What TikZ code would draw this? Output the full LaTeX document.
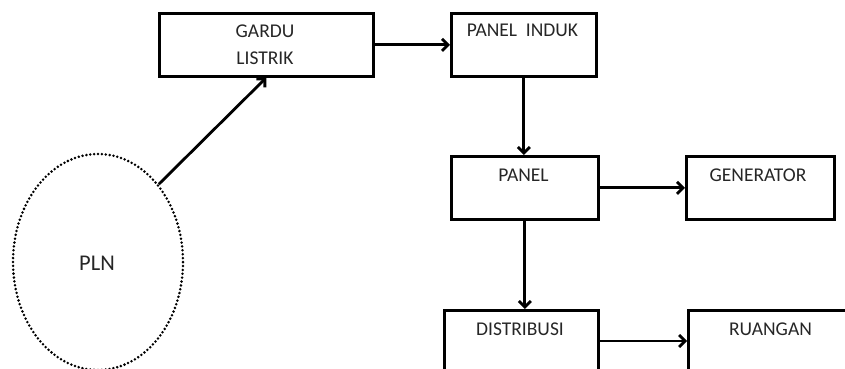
\documentclass[tikz,border=0pt]{standalone}
\usepackage{fontspec}
\setmainfont{Carlito}
\usetikzlibrary{arrows.meta,shapes.geometric}
\begin{document}
\begin{tikzpicture}[x=1pt,y=-1pt,
  box/.style={draw, line width=2.6pt, rectangle, inner sep=0pt, anchor=north west},
  lbl/.style={font=\fontsize{19.5}{27}\selectfont, text=black!85, inner sep=0pt, align=center},
  conn/.style={line width=2.8pt, -{Straight Barb[length=6pt,width=12pt,line width=2.8pt]}}]
\useasboundingbox (0,0) rectangle (845,369);
\clip (0,0) rectangle (845,369);
% boxes
\node[box, minimum width=214pt, minimum height=63pt] (gardu) at (158,12) {};
\node[box, minimum width=145pt, minimum height=63pt] (induk) at (450,12) {};
\node[box, minimum width=147pt, minimum height=63pt] (panel) at (450,155) {};
\node[box, minimum width=148pt, minimum height=63pt] (gen) at (685,155) {};
\node[box, minimum width=154pt, minimum height=100pt] (dist) at (443,309) {};
\node[box, minimum width=200pt, minimum height=100pt] (ruang) at (687,309) {};
% ellipse
\node[ellipse, draw, line width=2.8pt, line cap=round, dash pattern=on 0pt off 3.9pt,
      minimum width=170pt, minimum height=216pt, inner sep=0pt] (pln) at (98,262) {};
% labels
\node[lbl] (tgardu) at (265,44.5) {GARDU\\LISTRIK};
\node[lbl, anchor=base] (tinduk) at (522.5,37) {PANEL\ \ INDUK};
\node[lbl, anchor=base] (tpanel) at (523.5,181) {PANEL};
\node[lbl, anchor=base] (tgen) at (758,181) {GENERATOR};
\node[lbl, anchor=base] (tdist) at (520,335) {DISTRIBUSI};
\node[lbl, anchor=base] (truang) at (770.5,335) {RUANGAN};
\node[lbl, font=\fontsize{22.5}{27}\selectfont] (tpln) at (97,263) {PLN};
% connectors
\draw[conn] (pln.52) -- (gardu.south);
\draw[conn] (gardu.east) -- (induk.west);
\draw[conn] (induk.south) -- (panel.north -| induk.south);
\draw[conn] (panel.east) -- (gen.west);
\draw[conn] (panel.south) -- (panel.south |- dist.north);
\draw[conn] (dist.east |- 0,341) -- (ruang.west |- 0,341);
\end{tikzpicture}
\end{document}
